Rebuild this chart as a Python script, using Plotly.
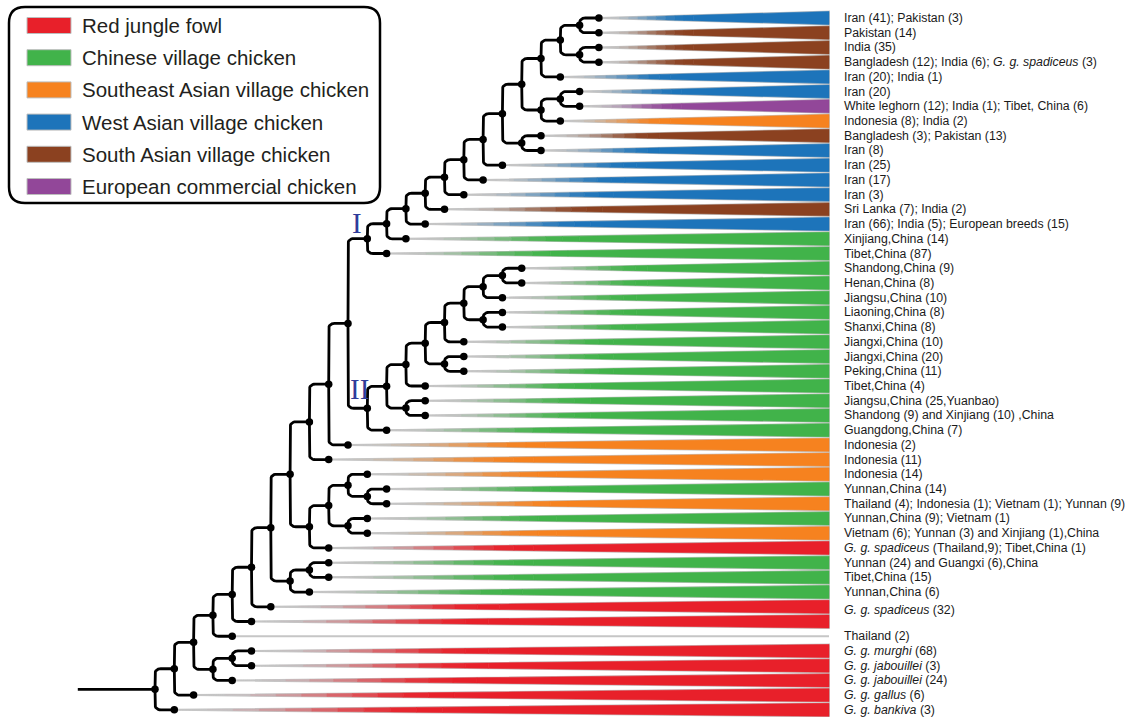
import plotly.graph_objects as go

# ---------------- data ----------------
categories = ["Red jungle fowl", "Chinese village chicken", "Southeast Asian village chicken",
              "West Asian village chicken", "South Asian village chicken", "European commercial chicken"]
category_colors = ["#E8202A", "#41B34A", "#F6821F", "#1D74BA", "#8B4120", "#924799"]

# category index of each collapsed clade (tip), top to bottom; None = no colour
tip_category = ([3, 4, 4, 4, 3, 3, 5, 2, 4, 3, 3, 3, 3, 4, 3] + [1] * 14 +
                [2, 2, 2, 1, 2, 1, 2, 0, 1, 1, 1, 0, 0, None, 0, 0, 0, 0, 0])

# tip labels and the tips each label belongs to
label_text = [
    "Iran (41); Pakistan (3)", "Pakistan (14)", "India (35)",
    "Bangladesh (12); India (6); <i>G. g. spadiceus</i> (3)", "Iran (20); India (1)", "Iran (20)",
    "White leghorn (12); India (1); Tibet, China (6)", "Indonesia (8); India (2)",
    "Bangladesh (3); Pakistan (13)", "Iran (8)", "Iran (25)", "Iran (17)", "Iran (3)",
    "Sri Lanka (7); India (2)", "Iran (66); India (5); European breeds (15)",
    "Xinjiang,China (14)", "Tibet,China (87)", "Shandong,China (9)", "Henan,China (8)",
    "Jiangsu,China (10)", "Liaoning,China (8)", "Shanxi,China (8)", "Jiangxi,China (10)",
    "Jiangxi,China (20)", "Peking,China (11)", "Tibet,China (4)", "Jiangsu,China (25,Yuanbao)",
    "Shandong (9) and Xinjiang (10) ,China", "Guangdong,China (7)", "Indonesia (2)",
    "Indonesia (11)", "Indonesia (14)", "Yunnan,China (14)",
    "Thailand (4); Indonesia (1); Vietnam (1); Yunnan (9)", "Yunnan,China (9); Vietnam (1)",
    "Vietnam (6); Yunnan (3) and Xinjiang (1),China",
    "<i>G. g. spadiceus</i> (Thailand,9); Tibet,China (1)", "Yunnan (24) and Guangxi (6),China",
    "Tibet,China (15)", "Yunnan,China (6)", "<i>G. g. spadiceus</i> (32)", "Thailand (2)",
    "<i>G. g. murghi</i> (68)", "<i>G. g. jabouillei</i> (3)", "<i>G. g. jabouillei</i> (24)",
    "<i>G. g. gallus</i> (6)", "<i>G. g. bankiva</i> (3)",
]
label_tips = [[i] for i in range(40)] + [[40, 41]] + [[i] for i in range(42, 48)]

# tree topology: internal node -> (child, child); ints are tips
nodes = {
    "n1": (0, 1), "n2": (2, 3), "n3": ("n1", "n2"), "n4": ("n3", 4),
    "n5": (5, 6), "n6": ("n5", 7), "n7": ("n4", "n6"), "n8": (8, 9),
    "n9": ("n7", "n8"), "n10": ("n9", 10), "n11": ("n10", 11), "n12": ("n11", 12),
    "n13": ("n12", 13), "n14": ("n13", 14), "n15": ("n14", 15), "cladeI": ("n15", 16),
    "m1": (17, 18), "m2": ("m1", 19), "m3": (20, 21), "m4": ("m2", "m3"),
    "m5": ("m4", 22), "m6": (23, 24), "m7": ("m5", "m6"), "m8": ("m7", 25),
    "m9": (26, 27), "m10": ("m8", "m9"), "cladeII": ("m10", 28),
    "k1": ("cladeI", "cladeII"), "k2": ("k1", 29), "k3": ("k2", 30),
    "s1": (32, 33), "s2": (31, "s1"), "s3": (34, 35), "s4": ("s2", "s3"), "s5": ("s4", 36),
    "k4": ("k3", "s5"), "y1": (37, 38), "y2": ("y1", 39), "k5": ("k4", "y2"),
    "k6": ("k5", 40), "k7": ("k6", 41), "k8": ("k7", 42),
    "r1": (43, 44), "r2": ("r1", 45), "k9": ("k8", "r2"), "k10": ("k9", 46),
    "root": ("k10", 47),
}
root_stem = 4  # length of root branch in levels
clade_marks = [("I", "cladeI"), ("II", "cladeII")]

# ---------------- layout constants ----------------
W, H = 1132, 717
PX0, PXS = 155.0, 19.3      # pixel x of root, pixels per level
PY0, PYS = 18.0, 14.72      # pixel y of tip 0, pixels per tip
X_END = (829 - PX0) / PXS
X_LAB = (842 - PX0) / PXS
HALF = 0.44

def hexmix(c1, c2, m):
    a = [int(c1[i:i + 2], 16) for i in (1, 3, 5)]
    b = [int(c2[i:i + 2], 16) for i in (1, 3, 5)]
    return "#%02x%02x%02x" % tuple(round(a[k] * (1 - m) + b[k] * m) for k in range(3))

# ---------------- tree geometry ----------------
depth = {}
def set_depth(n, d):
    depth[n] = d
    if n in nodes:
        for c in nodes[n]:
            set_depth(c, d + 1)
set_depth("root", 0)

ypos = {}
def gy(n):
    if isinstance(n, int):
        return float(n)
    if n not in ypos:
        a, b = nodes[n]
        ypos[n] = (gy(a) + gy(b)) / 2
    return ypos[n]

RX, RY = 0.3, 0.38
bx, by = [], []
for p, kids in nodes.items():
    px, py = depth[p], gy(p)
    for c in kids:
        cx, cy = depth[c], gy(c)
        s = 1 if cy > py else -1
        pts = [(px, py), (px, cy - s * RY)]
        for k in range(1, 9):
            t = k / 8
            x = (1 - t) ** 2 * px + 2 * (1 - t) * t * px + t * t * (px + RX)
            y = (1 - t) ** 2 * (cy - s * RY) + 2 * (1 - t) * t * cy + t * t * cy
            pts.append((x, y))
        pts.append((cx, cy))
        bx += [q[0] for q in pts] + [None]
        by += [q[1] for q in pts] + [None]
bx += [-root_stem, 0, None]
by += [gy("root"), gy("root"), None]

fig = go.Figure()

# wedge outlines
ox, oy = [], []
for i, cat in enumerate(tip_category):
    cx, cy = depth[i], float(i)
    if cat is None:
        ox += [cx, X_END, None]
        oy += [cy, cy, None]
    else:
        ox += [cx, X_END, X_END, cx, None]
        oy += [cy, cy - HALF, cy + HALF, cy, None]
fig.add_trace(go.Scatter(x=ox, y=oy, mode="lines", line=dict(color="#c6c6c6", width=2),
                         hoverinfo="skip", showlegend=False))

# gradient wedge fills
tb = [0, 0.05, 0.09, 0.13, 0.17, 0.21, 0.25, 0.29, 0.33, 0.37, 0.41, 1.0]
GREY = "#c4c4c4"
for ci, col in enumerate(category_colors):
    for k in range(len(tb) - 1):
        ta, tt = tb[k], tb[k + 1]
        m = min(1.0, max(0.0, ((ta + tt) / 2 - 0.03) / 0.36))
        m = m * m * (3 - 2 * m) if k < len(tb) - 2 else 1.0
        fc = hexmix(GREY, col, m)
        xs, ys = [], []
        for i, cat in enumerate(tip_category):
            if cat != ci:
                continue
            cx, cy = depth[i], float(i)
            L = X_END - cx
            xa, xb = cx + ta * L, cx + tt * L
            ha, hb = HALF * ta, HALF * tt
            xs += [xa, xb, xb, xa, xa, None]
            ys += [cy - ha, cy - hb, cy + hb, cy + ha, cy - ha, None]
        if xs:
            fig.add_trace(go.Scatter(x=xs, y=ys, mode="lines", fill="toself", fillcolor=fc,
                                     line=dict(color=fc, width=0.6), hoverinfo="skip",
                                     showlegend=False))

# branches
fig.add_trace(go.Scatter(x=bx, y=by, mode="lines", line=dict(color="black", width=2.8),
                         hoverinfo="skip", showlegend=False))
# node / tip dots
all_n = list(nodes.keys()) + list(range(len(tip_category)))
fig.add_trace(go.Scatter(x=[depth[n] for n in all_n], y=[gy(n) for n in all_n], mode="markers",
                         marker=dict(color="black", size=7.5), hoverinfo="skip", showlegend=False))

annotations = []
for txt, tips in zip(label_text, label_tips):
    annotations.append(dict(x=X_LAB, y=sum(tips) / len(tips) - (0.25 if len(tips) > 1 else 0),
                            xref="x", yref="y", text=txt, showarrow=False, xanchor="left",
                            yanchor="middle",
                            font=dict(family="Liberation Sans, Arial, sans-serif", size=12.3,
                                      color="#1a1a1a")))
shifts = {"I": (-10, 15.5), "II": (-8, 19)}
for name, node in clade_marks:
    annotations.append(dict(x=depth[node], y=gy(node), xref="x", yref="y", text=name,
                            showarrow=False, xshift=shifts[name][0], yshift=shifts[name][1],
                            font=dict(family="Liberation Serif, Times New Roman, serif", size=29,
                                      color="#2F3C9A")))

# legend
def P(px, py):
    return px / W, 1 - py / H
L0, T0, R0, B0, RR = 9, 7, 380, 203, 16
def pt(a, b):
    x, y = P(a, b)
    return "%f,%f" % (x, y)
path = ("M " + pt(L0 + RR, T0) + " L " + pt(R0 - RR, T0) + " Q " + pt(R0, T0) + " " + pt(R0, T0 + RR) +
        " L " + pt(R0, B0 - RR) + " Q " + pt(R0, B0) + " " + pt(R0 - RR, B0) +
        " L " + pt(L0 + RR, B0) + " Q " + pt(L0, B0) + " " + pt(L0, B0 - RR) +
        " L " + pt(L0, T0 + RR) + " Q " + pt(L0, T0) + " " + pt(L0 + RR, T0) + " Z")
shapes = [dict(type="path", path=path, xref="paper", yref="paper",
               line=dict(color="black", width=2.5), fillcolor="white", layer="above")]
for i, (name, col) in enumerate(zip(categories, category_colors)):
    yc = 25.5 + 32.2 * i
    x0, y0 = P(27, yc - 8)
    x1, y1 = P(71, yc + 8)
    shapes.append(dict(type="rect", xref="paper", yref="paper", x0=x0, x1=x1, y0=y1, y1=y0,
                       fillcolor=col, line=dict(color="#bdbdbd", width=1), layer="above"))
    tx, ty = P(80, yc)
    annotations.append(dict(x=tx, y=ty, xref="paper", yref="paper", text=name, showarrow=False,
                            xanchor="left", yanchor="middle",
                            font=dict(family="Liberation Sans, Arial, sans-serif", size=20.5,
                                      color="#231F20")))

fig.update_layout(
    width=W, height=H, margin=dict(l=0, r=0, t=0, b=0),
    paper_bgcolor="white", plot_bgcolor="white",
    xaxis=dict(range=[-PX0 / PXS, (W - PX0) / PXS], visible=False, fixedrange=True),
    yaxis=dict(range=[(H - PY0) / PYS, -PY0 / PYS], visible=False, fixedrange=True),
    shapes=shapes, annotations=annotations, showlegend=False,
)
fig.write_html("out.html", config={"displayModeBar": False},
               post_script="document.body.style.margin='0';document.body.style.overflow='hidden';")
